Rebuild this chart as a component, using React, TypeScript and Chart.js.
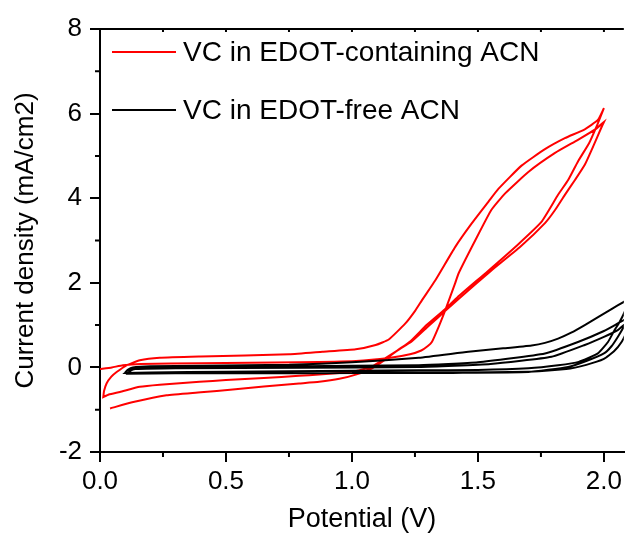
import React, { useEffect, useRef } from 'react';
import { Chart, registerables } from 'chart.js';

Chart.register(...registerables);

const FONT = '"Liberation Sans", Arial, Helvetica, sans-serif';

// ---- Data: potential (V), current density (mA/cm2) ----
const legendLabels = ['VC in EDOT-containing ACN', 'VC in EDOT-free ACN'];
const seriesColors = ['#ff0000', '#000000'];

const xMajorTicks = [0, 0.5, 1.0, 1.5, 2.0];
const xMinorTicks = [0.25, 0.75, 1.25, 1.75];
const yMajorTicks = [-2, 0, 2, 4, 6, 8];
const yMinorTicks = [-1, 1, 3, 5, 7];

const redCycle1Forward: [number, number][] = [
  [0.0, -0.04], [0.047, 0.0], [0.091, 0.05], [0.16, 0.08], [0.4, 0.1], [0.79, 0.12],
  [1.016, 0.15], [1.146, 0.22], [1.23, 0.31], [1.275, 0.4], [1.3, 0.5], [1.317, 0.6],
  [1.344, 0.96], [1.37, 1.35], [1.41, 2.0], [1.423, 2.22], [1.49, 3.01], [1.553, 3.72],
  [1.609, 4.12], [1.7, 4.62], [1.806, 5.07], [1.897, 5.38], [1.964, 5.62], [2.0, 5.8],
];
const redCycle1Reverse: [number, number][] = [
  [2.0, 5.8], [1.989, 5.66], [1.957, 5.22], [1.924, 4.79], [1.885, 4.43], [1.845, 4.08],
  [1.806, 3.72], [1.766, 3.41], [1.668, 2.85], [1.549, 2.27], [1.431, 1.66], [1.375, 1.36],
  [1.304, 0.98], [1.238, 0.62], [1.186, 0.42], [1.133, 0.22], [1.08, 0.02], [1.015, -0.09],
  [0.95, -0.13], [0.87, -0.17], [0.79, -0.2], [0.65, -0.25], [0.5, -0.3], [0.395, -0.34],
  [0.237, -0.41], [0.158, -0.46], [0.079, -0.58], [0.035, -0.64], [0.013, -0.7],
];
const redCycle2Forward: [number, number][] = [
  [0.013, -0.7], [0.016, -0.56], [0.026, -0.38], [0.045, -0.22], [0.066, -0.11],
  [0.105, 0.05], [0.158, 0.17], [0.237, 0.23], [0.4, 0.26], [0.751, 0.31], [0.883, 0.37],
  [1.015, 0.43], [1.094, 0.53], [1.146, 0.66], [1.212, 1.04], [1.252, 1.35], [1.278, 1.59],
  [1.331, 2.06], [1.41, 2.85], [1.476, 3.41], [1.542, 3.92], [1.581, 4.22], [1.673, 4.77],
  [1.766, 5.16], [1.845, 5.42], [1.924, 5.63], [1.976, 5.85], [2.0, 6.13],
];
const redCycle2Reverse: [number, number][] = [
  [2.0, 6.13], [1.976, 5.77], [1.941, 5.3], [1.897, 4.87], [1.858, 4.43], [1.818, 4.08],
  [1.752, 3.44], [1.656, 2.89], [1.538, 2.27], [1.419, 1.66], [1.368, 1.37], [1.296, 1.0],
  [1.232, 0.62], [1.18, 0.4], [1.133, 0.19], [1.08, -0.02], [1.015, -0.17], [0.95, -0.27],
  [0.87, -0.34], [0.79, -0.38], [0.65, -0.45], [0.527, -0.52], [0.4, -0.59], [0.264, -0.66],
  [0.132, -0.82], [0.04, -0.97],
];

const blackForward1: [number, number][] = [
  [0.099, -0.13], [0.11, -0.06], [0.13, 0.0], [0.2, 0.03], [0.4, 0.04], [0.751, 0.06],
  [1.0, 0.12], [1.265, 0.23], [1.462, 0.37], [1.6, 0.45], [1.713, 0.52], [1.766, 0.58],
  [1.818, 0.68], [1.87, 0.82], [1.924, 1.0], [1.98, 1.2], [2.03, 1.38], [2.079, 1.55], [2.1, 1.62],
];
const blackReverse1: [number, number][] = [
  [2.1, 1.62], [2.082, 1.31], [2.06, 1.05], [2.042, 0.88], [2.016, 0.6], [1.976, 0.33],
  [1.9, 0.13], [1.818, 0.05], [1.7, -0.02], [1.5, -0.06], [1.265, -0.07], [1.0, -0.08],
  [0.5, -0.1], [0.2, -0.12], [0.099, -0.13],
];
const blackForward2: [number, number][] = [
  [0.099, -0.13], [0.11, -0.07], [0.13, -0.02], [0.2, 0.0], [0.6, 0.02], [1.0, 0.04],
  [1.265, 0.05], [1.5, 0.12], [1.766, 0.33], [1.897, 0.6], [2.0, 0.86], [2.055, 1.04],
  [2.079, 1.12], [2.1, 1.2],
];
const blackReverse2: [number, number][] = [
  [2.1, 1.2], [2.079, 0.96], [2.055, 0.72], [2.03, 0.5], [2.0, 0.33], [1.93, 0.15],
  [1.858, 0.01], [1.7, -0.11], [1.4, -0.13], [1.265, -0.13], [0.8, -0.14], [0.3, -0.14],
  [0.11, -0.15],
];
const blackForward3: [number, number][] = [
  [0.11, -0.15], [0.12, -0.08], [0.14, -0.04], [0.3, -0.02], [0.8, -0.01], [1.265, 0.01],
  [1.55, 0.08], [1.792, 0.25], [1.924, 0.53], [2.0, 0.72], [2.055, 0.88], [2.079, 1.0], [2.1, 1.06],
];
const blackReverse3: [number, number][] = [
  [2.1, 1.06], [2.09, 0.85], [2.07, 0.6], [2.04, 0.38], [2.0, 0.2], [1.93, 0.06],
  [1.85, -0.04], [1.7, -0.1], [1.4, -0.12], [1.0, -0.12],
];

const redSeries = [redCycle1Forward, redCycle1Reverse, redCycle2Forward, redCycle2Reverse];
const blackSeries = [blackForward1, blackReverse1, blackForward2, blackReverse2, blackForward3, blackReverse3];

const toPoints = (parts: [number, number][][]) =>
  parts.flat().map(([x, y]) => ({ x, y }));

const decorPlugin = {
  id: 'decor',
  afterDraw(chart: any) {
    const { ctx, chartArea, scales } = chart;
    const { left, top, right, bottom } = chartArea;
    const x = scales.x;
    const y = scales.y;
    ctx.save();
    ctx.strokeStyle = '#000';
    ctx.lineWidth = 2;
    ctx.beginPath();
    ctx.moveTo(left - 1, top);
    ctx.lineTo(right, top);
    for (const v of yMinorTicks) {
      const py = y.getPixelForValue(v);
      ctx.moveTo(left - 5, py);
      ctx.lineTo(left, py);
    }
    for (const v of xMinorTicks) {
      const px = x.getPixelForValue(v);
      ctx.moveTo(px, bottom);
      ctx.lineTo(px, bottom + 5);
    }
    for (const v of [...xMajorTicks, ...xMinorTicks]) {
      const px = x.getPixelForValue(v);
      if (px <= left + 1) continue;
      ctx.moveTo(px, top);
      ctx.lineTo(px, top + 3);
    }
    ctx.stroke();

    // legend
    ctx.font = `28px ${FONT}`;
    ctx.textBaseline = 'middle';
    ctx.textAlign = 'left';
    const rows = [top + 23, top + 81];
    chart.data.datasets.forEach((ds: any, i: number) => {
      const ry = rows[i];
      ctx.strokeStyle = ds.borderColor;
      ctx.lineWidth = 2;
      ctx.beginPath();
      ctx.moveTo(left + 12, ry);
      ctx.lineTo(left + 76, ry);
      ctx.stroke();
      ctx.fillStyle = '#000';
      ctx.fillText(ds.label, left + 83, ry + 1);
    });
    ctx.restore();
  },
};

export default function App() {
  const canvasRef = useRef<HTMLCanvasElement | null>(null);

  useEffect(() => {
    if (!canvasRef.current) return;
    const chart = new Chart(canvasRef.current, {
      type: 'scatter',
      data: {
        datasets: [
          {
            label: legendLabels[0],
            data: toPoints(redSeries),
            showLine: true,
            borderColor: seriesColors[0],
            backgroundColor: seriesColors[0],
            borderWidth: 2,
            pointRadius: 0,
            tension: 0.15,
            order: 2,
          },
          {
            label: legendLabels[1],
            data: toPoints(blackSeries),
            showLine: true,
            borderColor: seriesColors[1],
            backgroundColor: seriesColors[1],
            borderWidth: 2,
            pointRadius: 0,
            tension: 0.15,
            order: 1,
          },
        ],
      },
      options: {
        animation: false,
        responsive: false,
        devicePixelRatio: 1,
        layout: { padding: { top: 29, left: 0, right: 0, bottom: 0 } },
        plugins: { legend: { display: false }, tooltip: { enabled: false } },
        scales: {
          x: {
            type: 'linear',
            min: 0,
            max: 2.079,
            afterFit: (s: any) => { s.height = 81; },
            afterBuildTicks: (s: any) => { s.ticks = xMajorTicks.map((v) => ({ value: v })); },
            ticks: {
              color: '#000',
              font: { family: FONT, size: 26 },
              padding: 4,
              maxRotation: 0,
              callback: (v: any) => Number(v).toFixed(1),
            },
            grid: { drawOnChartArea: false, drawTicks: true, tickLength: 10, color: '#000', lineWidth: 2 },
            border: { display: true, color: '#000', width: 2 },
            title: {
              display: true,
              text: 'Potential (V)',
              color: '#000',
              font: { family: FONT, size: 27, lineHeight: 1 },
              padding: { top: 0, bottom: 0 },
            },
          },
          y: {
            type: 'linear',
            min: -2,
            max: 8,
            afterFit: (s: any) => { s.width = 100; },
            afterBuildTicks: (s: any) => { s.ticks = yMajorTicks.map((v) => ({ value: v })); },
            ticks: {
              color: '#000',
              font: { family: FONT, size: 26 },
              padding: 8,
              callback: (v: any) => String(v),
            },
            grid: { drawOnChartArea: false, drawTicks: true, tickLength: 10, color: '#000', lineWidth: 2 },
            border: { display: true, color: '#000', width: 2 },
            title: {
              display: true,
              text: 'Current density (mA/cm2)',
              color: '#000',
              font: { family: FONT, size: 26, lineHeight: 1 },
              padding: { top: 13, bottom: 0 },
            },
          },
        },
      },
      plugins: [decorPlugin],
    });
    return () => chart.destroy();
  }, []);

  return (
    <div style={{ position: 'fixed', left: 0, top: 0, width: 626, height: 533, background: '#fff' }}>
      <canvas ref={canvasRef} width={626} height={533} style={{ width: 626, height: 533, display: 'block' }} />
    </div>
  );
}
